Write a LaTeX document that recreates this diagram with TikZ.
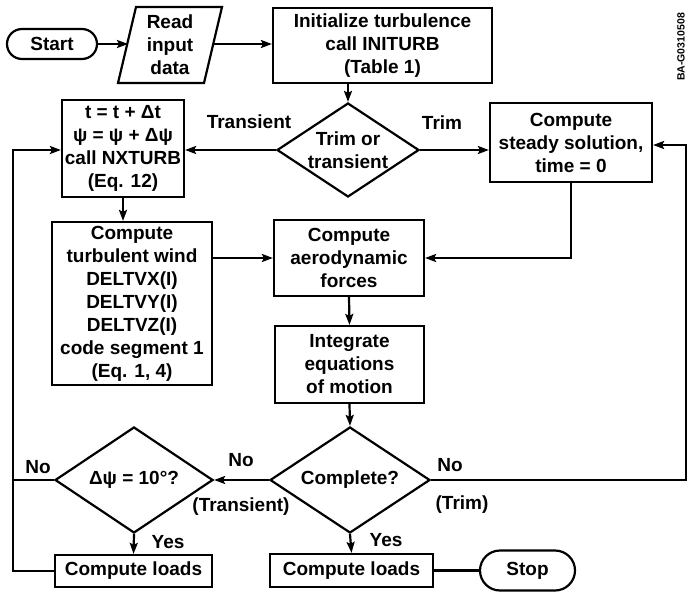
\documentclass[tikz,border=0pt]{standalone}
\usepackage{fontspec}
\setmainfont{Liberation Sans}
\usetikzlibrary{shapes.geometric,arrows.meta}
\begin{document}
\begin{tikzpicture}[x=1pt,y=-1pt,
  font=\fontsize{19}{23}\selectfont\bfseries,
  box/.style={draw, line width=2.2pt, inner sep=0pt, align=center},
  dia/.style={draw, diamond, line width=2.2pt, inner sep=0pt},
  term/.style={draw, line width=2.2pt, inner sep=0pt},
  lbl/.style={inner sep=0pt, align=center},
  arr/.style={line width=2.2pt, -{Stealth[length=11pt,width=8pt,inset=2pt]}},
  ln/.style={line width=2.2pt}]
\useasboundingbox (0,0) rectangle (688,597);

% terminals and input
\node[term, rounded corners=15pt, minimum width=90pt, minimum height=30pt] (start) at (52,44) {Start};
\draw[ln, line join=miter] (118,83) -- (136,7) -- (222,7) -- (204,83) -- cycle;
\node[lbl] (read) at (170,45) {Read\\input\\data};
\coordinate (readin) at (128,44);
\coordinate (readout) at (213,44);

\node[box, minimum width=219pt, minimum height=75pt] (init) at (382.5,45.5) {Initialize turbulence\\call INITURB\\(Table 1)};
\node[lbl, rotate=90, font=\fontsize{10.5}{12}\selectfont\bfseries] (code) at (681,47) {BA-G0310508};

% second row
\node[dia, minimum width=142pt, minimum height=94pt] (trim) at (348,150) {};
\node[lbl] (trimt) at (trim) {Trim or\\transient};
\node[box, minimum width=122pt, minimum height=97pt] (tbox) at (123,148.5) {t = t + Δt\\ψ = ψ + Δψ\\call NXTURB\\(Eq. 12)};
\node[lbl] (transl) at (249,122) {Transient};
\node[lbl] (triml) at (442,123) {Trim};
\node[box, minimum width=162pt, minimum height=79pt] (steady) at (571,142.5) {Compute\\steady solution,\\time = 0};

% middle
\node[box, minimum width=160pt, minimum height=163pt] (turb) at (132,303.5) {Compute\\turbulent wind\\DELTVX(I)\\DELTVY(I)\\DELTVZ(I)\\code segment 1\\(Eq. 1, 4)};
\node[box, minimum width=150pt, minimum height=76pt] (aero) at (349,258) {Compute\\aerodynamic\\forces};
\node[box, minimum width=149pt, minimum height=77pt] (integ) at (349.5,364.5) {Integrate\\equations\\of motion};

% decisions
\node[dia, minimum width=160pt, minimum height=106pt] (comp) at (350,480) {};
\node[lbl] (compt) at (comp) {Complete?};
\node[dia, minimum width=158pt, minimum height=106pt] (dpsi) at (134,480) {};
\node[lbl] (dpsit) at (dpsi) {Δψ = 10°?};

% bottom
\node[box, minimum width=157pt, minimum height=32pt] (loads1) at (133.5,571) {Compute loads};
\node[box, minimum width=163pt, minimum height=33pt] (loads2) at (351.5,570.5) {Compute loads};
\node[term, rounded corners=20pt, minimum width=95pt, minimum height=40pt] (stop) at (527.5,570.5) {Stop};

% labels
\node[lbl] (no1) at (38,467) {No};
\node[lbl] (no2) at (241,460) {No};
\node[lbl] (transb) at (241,507) {(Transient)};
\node[lbl] (no3) at (450,465) {No};
\node[lbl] (trimb) at (462,505) {(Trim)};
\node[lbl] (yes1) at (168,542) {Yes};
\node[lbl] (yes2) at (386,540) {Yes};

% connectors
\coordinate (lx) at (13,150);
\coordinate (rx) at (686,145);
\draw[arr] (start.east) -- (readin);
\draw[arr] (readout) -- (readout -| init.west);
\draw[arr] (init.south -| trim.north) -- (trim.north);
\draw[arr] (trim.west) -- (trim.west -| tbox.east);
\draw[arr] (trim.east) -- (trim.east -| steady.west);
\draw[arr] (tbox.south) -- (tbox.south |- turb.north);
\draw[arr] (turb.east |- aero.west) -- (aero.west);
\draw[arr] (steady.south) |- (aero.east);
\draw[arr] (aero.south) -- (integ.north);
\draw[arr] (integ.south) -- (comp.north);
\draw[arr] (comp.west) -- (dpsi.east);
\draw[arr] (comp.south) -- (loads2.north);
\draw[arr] (dpsi.south) -- (loads1.north);
\draw[ln] (loads2.east) -- (stop.west);
\draw[arr] (loads1.west) -| (lx) -- (lx -| tbox.west);
\draw[ln] (dpsi.west) -- (dpsi.west -| lx);
\draw[arr] (comp.east) -| (rx) -- (rx -| steady.east);
\end{tikzpicture}
\end{document}
